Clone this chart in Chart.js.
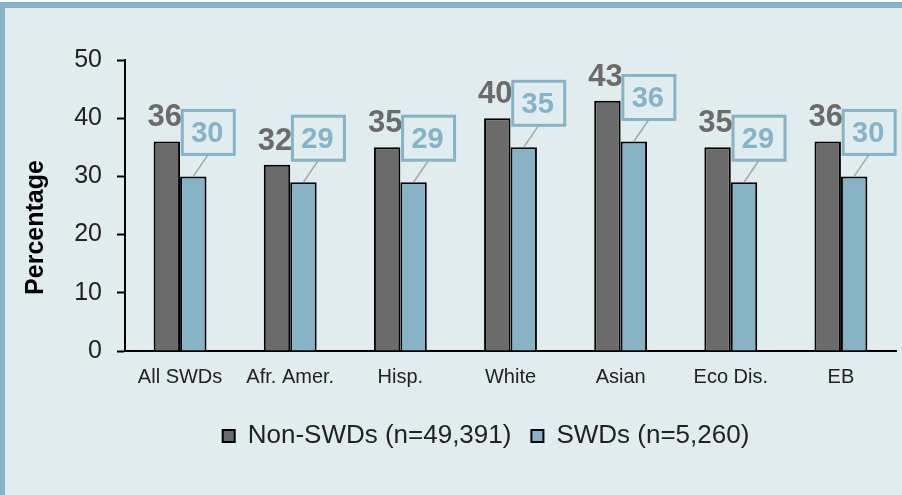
<!DOCTYPE html>
<html>
<head>
<meta charset="utf-8">
<script src="https://cdn.jsdelivr.net/npm/chart.js@4"></script>
<style>
  html, body { margin: 0; padding: 0; background: #ffffff; }
  #frame {
    position: absolute; left: 0; top: 2px; width: 897px; height: 487px;
    background: #e1ecee; border-left: 5px solid #86b4c6; border-top: 6px solid #86b4c6;
  }
  #wrap { position: absolute; left: 0; top: 0; width: 902px; height: 495px; }
</style>
</head>
<body>
<div id="frame"></div>
<div id="wrap"><canvas id="chart" width="902" height="495"></canvas></div>
<script>
const categories = ["All SWDs", "Afr. Amer.", "Hisp.", "White", "Asian", "Eco Dis.", "EB"];
const nonSwdValues = [36, 32, 35, 40, 43, 35, 36];
const swdValues = [30, 29, 29, 35, 36, 29, 30];
const seriesNames = ["Non-SWDs (n=49,391)", "SWDs (n=5,260)"];
const yTicks = [0, 10, 20, 30, 40, 50];
const yTitle = 'Percentage';

const darkGray = '#6b6b6b';
const lightBlue = '#86b4c6';
const bgColor = '#e1ecee';
const fontFamily = '"Liberation Sans", Arial, sans-serif';

// value labels, callout boxes and the y title
const valueLabels = {
  id: 'valueLabels',
  afterLayout(chart) {
    // legend sits a bit right of the canvas centre in the original
    chart.legend.left += 60;
  },
  afterDatasetsDraw(chart) {
    const ctx = chart.ctx;
    const area = chart.chartArea;
    ctx.save();
    ctx.textAlign = 'center';
    ctx.textBaseline = 'alphabetic';

    ctx.font = 'bold 31px ' + fontFamily;
    chart.getDatasetMeta(0).data.forEach((bar, i) => {
      ctx.fillStyle = darkGray;
      ctx.fillText(nonSwdValues[i], bar.x - 2, bar.y - 15);
    });

    ctx.font = 'bold 29px ' + fontFamily;
    chart.getDatasetMeta(1).data.forEach((bar, i) => {
      const bx = bar.x + 15, bBottom = bar.y - 22;
      const w = 52, h = 44;
      // leader line
      ctx.strokeStyle = '#a6a6a6';
      ctx.lineWidth = 1.5;
      ctx.beginPath();
      ctx.moveTo(bar.x, bar.y);
      ctx.lineTo(bx, bBottom);
      ctx.stroke();
      // box
      ctx.fillStyle = bgColor;
      ctx.fillRect(bx - w / 2, bBottom - h, w, h);
      ctx.strokeStyle = lightBlue;
      ctx.lineWidth = 3;
      ctx.strokeRect(bx - w / 2, bBottom - h, w, h);
      ctx.fillStyle = lightBlue;
      ctx.fillText(swdValues[i], bx - 1, bBottom - 12);
    });

    // y title, sits lower than the plot centre
    ctx.translate(area.left - 89, (area.top + area.bottom) / 2 + 22);
    ctx.rotate(-Math.PI / 2);
    ctx.textBaseline = 'middle';
    ctx.fillStyle = '#000';
    ctx.font = 'bold 25px ' + fontFamily;
    ctx.fillText(yTitle, 0, 0);
    ctx.restore();
  }
};

const ctx = document.getElementById('chart').getContext('2d');
new Chart(ctx, {
  type: 'bar',
  data: {
    labels: categories,
    datasets: [
      { label: seriesNames[0], data: nonSwdValues, backgroundColor: darkGray, borderColor: '#000', borderWidth: 2 },
      { label: seriesNames[1], data: swdValues, backgroundColor: lightBlue, borderColor: '#000', borderWidth: 2 }
    ]
  },
  options: {
    responsive: false,
    animation: false,
    layout: { padding: { left: 16, right: 6, top: 60, bottom: 36 } },
    datasets: { bar: { categoryPercentage: 0.48, barPercentage: 1 } },
    plugins: {
      tooltip: { enabled: false },
      legend: {
        position: 'bottom',
        labels: {
          color: '#222',
          font: { size: 26, family: fontFamily },
          boxWidth: 12, boxHeight: 12, padding: 20,
          generateLabels(chart) {
            return chart.data.datasets.map((ds, i) => ({
              text: ds.label, fillStyle: ds.backgroundColor, strokeStyle: '#000',
              lineWidth: 2, datasetIndex: i, fontColor: '#222'
            }));
          }
        }
      }
    },
    scales: {
      x: {
        afterFit(axis) { axis.height = 52; },
        grid: { display: false, drawTicks: false },
        border: { color: '#000', width: 2 },
        ticks: { color: '#222', font: { size: 20, family: fontFamily }, padding: 14, maxRotation: 0 }
      },
      y: {
        min: 0, max: 50,
        afterBuildTicks(axis) { axis.ticks = yTicks.map(v => ({ value: v })); },
        afterFit(axis) { axis.width = 109; },
        grid: { display: true, drawOnChartArea: false, drawTicks: true, tickLength: 8, tickColor: '#000', tickWidth: 2 },
        border: { color: '#000', width: 2 },
        ticks: { color: '#222', font: { size: 25, family: fontFamily }, padding: 15 }
      }
    }
  },
  plugins: [valueLabels]
});
</script>
</body>
</html>
